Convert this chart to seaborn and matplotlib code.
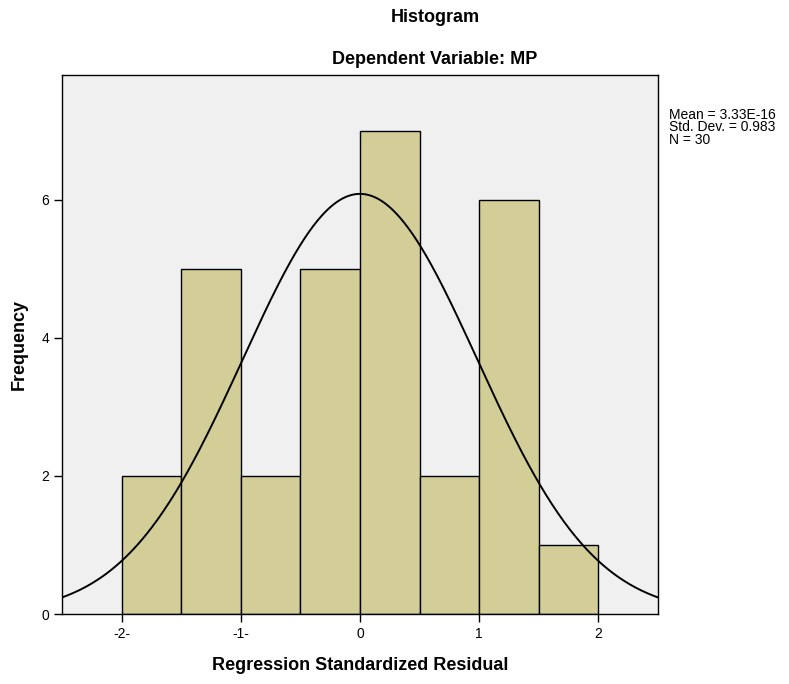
import numpy as np
import pandas as pd
import matplotlib
matplotlib.use("Agg")
import matplotlib.pyplot as plt
import seaborn as sns

# Data
bin_edges = [-2.0, -1.5, -1.0, -0.5, 0.0, 0.5, 1.0, 1.5, 2.0]
counts = [2, 5, 2, 5, 7, 2, 6, 1]
mean_val = 3.33e-16
std_val = 0.983
n_val = 30
x_ticks = [-2, -1, 0, 1, 2]
x_tick_labels = ["-2-", "-1-", "0", "1", "2"]
y_ticks = [0, 2, 4, 6]

sns.set_style("white")
plt.rcParams['font.family'] = ['Liberation Sans', 'DejaVu Sans']
plt.rcParams['text.color'] = 'black'
plt.rcParams['axes.labelcolor'] = 'black'
plt.rcParams['xtick.color'] = 'black'
plt.rcParams['ytick.color'] = 'black'

fig = plt.figure(figsize=(7.89, 6.84), dpi=100)
ax = fig.add_axes([62/789, 70/684, (658-62)/789, (614-75)/684])
ax.set_facecolor("#F0F0F0")

centers = [(bin_edges[i] + bin_edges[i+1]) / 2 for i in range(len(counts))]
df = pd.DataFrame({"x": centers, "w": counts})
sns.histplot(data=df, x="x", weights="w", bins=bin_edges, ax=ax,
             color="#D3CE97", edgecolor="black", linewidth=1.0, alpha=1.0)

binw = bin_edges[1] - bin_edges[0]
xs = np.linspace(-2.5, 2.5, 400)
ys = n_val * binw * np.exp(-0.5 * ((xs - mean_val) / std_val) ** 2) / (std_val * np.sqrt(2 * np.pi))
sns.lineplot(x=xs, y=ys, ax=ax, color="black", linewidth=1.4)

ax.set_xlim(-2.5, 2.5)
ax.set_ylim(0, 7.81)
ax.set_xticks(x_ticks)
ax.set_xticklabels(x_tick_labels, fontsize=10)
ax.set_yticks(y_ticks)
ax.set_yticklabels([str(v) for v in y_ticks], fontsize=10)
ax.tick_params(axis="both", direction="out", length=6, width=1, color="black",
               labelcolor="black", pad=3, bottom=True, left=True)
for s in ax.spines.values():
    s.set_color("black")
    s.set_linewidth(1.0)

ax.set_xlabel("Regression Standardized Residual", fontsize=13, fontweight="bold", labelpad=12, color="black")
ax.set_ylabel("Frequency", fontsize=13, fontweight="bold", labelpad=10, color="black")

fig.text(435/789, 1 - 17/684, "Histogram", ha="center", va="center", fontsize=13, fontweight="bold", color="black")
fig.text(435/789, 1 - 60/684, "Dependent Variable: MP", ha="center", va="center", fontsize=13, fontweight="bold", color="black")

fig.text(669/789, 1 - 108/684, "Mean = 3.33E-16\nStd. Dev. = 0.983\nN = 30",
         ha="left", va="top", fontsize=10, linespacing=0.85, color="black")

fig.savefig("out.png", dpi=100)
